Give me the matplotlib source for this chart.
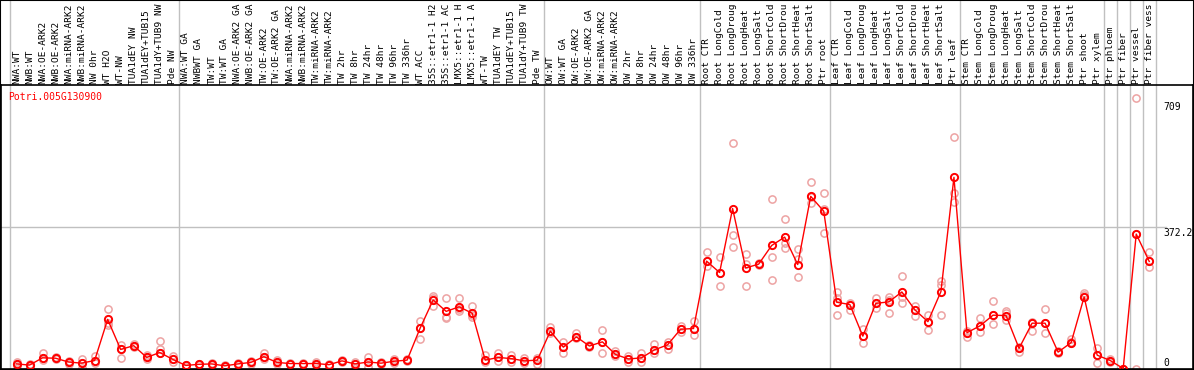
import matplotlib.pyplot as plt
from matplotlib.transforms import blended_transform_factory
from matplotlib.lines import Line2D

gene = 'Potri.005G130900'

# sample names as printed (cut to 14 characters, like the source chart)
labels = [
    'NWA:WT', 'NWB:WT', 'NWA:OE-ARK2', 'NWB:OE-ARK2', 'NWA:miRNA-ARK2',
    'NWB:miRNA-ARK2', 'NW 0hr', 'WT H2O', 'WT-NW', 'TUA1dEY NW',
    'TUA1dEY+TUB15', 'TUA1dY+TUB9 NW', 'Pde NW',
    'NWA:WT GA', 'NWBWT GA', 'TW:WT', 'TW:WT GA', 'NWA:OE-ARK2 GA',
    'NWB:OE-ARK2 GA', 'TW:OE-ARK2', 'TW:OE-ARK2 GA', 'NWA:miRNA-ARK2',
    'NWB:miRNA-ARK2', 'TW:miRNA-ARK2', 'TW:miRNA-ARK2', 'TW 2hr', 'TW 8hr',
    'TW 24hr', 'TW 48hr', 'TW 96hr', 'TW 336hr', 'WT ACC', '35S::etr1-1 H2',
    '35S::etr1-1 AC', 'LMX5::etr1-1 H', 'LMX5::etr1-1 A', 'WT-TW',
    'TUA1dEY TW', 'TUA1dEY+TUB15', 'TUA1dY+TUB9 TW', 'Pde TW',
    'OW:WT', 'OW:WT GA', 'OW:OE-ARK2', 'OW:OE-ARK2 GA', 'OW:miRNA-ARK2',
    'OW:miRNA-ARK2', 'OW 2hr', 'OW 8hr', 'OW 24hr', 'OW 48hr', 'OW 96hr',
    'OW 336hr',
    'Root CTR', 'Root LongCold', 'Root LongDroug', 'Root LongHeat',
    'Root LongSalt', 'Root ShortCold', 'Root ShortDrou', 'Root ShortHeat',
    'Root ShortSalt', 'Ptr root',
    'Leaf CTR', 'Leaf LongCold', 'Leaf LongDroug', 'Leaf LongHeat',
    'Leaf LongSalt', 'Leaf ShortCold', 'Leaf ShortDrou', 'Leaf ShortHeat',
    'Leaf ShortSalt', 'Ptr leaf',
    'Stem CTR', 'Stem LongCold', 'Stem LongDroug', 'Stem LongHeat',
    'Stem LongSalt', 'Stem ShortCold', 'Stem ShortDrou', 'Stem ShortHeat',
    'Stem ShortSalt', 'Ptr shoot',
    'Ptr xylem', 'Ptr phloem', 'Ptr fiber', 'Ptr vessel', 'Ptr fiber vess',
]

means = [
    12, 9, 28, 27, 17, 14, 21, 129, 50, 60, 29, 42, 24,
    8, 11, 12, 7, 12, 16, 31, 16, 13, 13, 13, 10, 20, 12, 17, 14, 19, 22,
    106, 180, 150, 162, 145, 22, 29, 26, 20, 22,
    98, 56, 83, 59, 70, 37, 25, 28, 49, 62, 103, 105,
    282, 252, 420, 264, 274, 323, 345, 273, 452, 413,
    174, 168, 85, 171, 175, 201, 154, 123, 202, 502,
    94, 112, 140, 139, 53, 119, 119, 43, 68, 188,
    35, 21, 0, 353, 281,
]

reps = [
    [6, 12, 17], [5, 9, 12], [41, 28, 22], [30, 27, 24], [20, 17, 12],
    [25, 14, 2], [32, 21, 15], [155, 114, 120], [62, 50, 28], [65, 60, 56],
    [35, 29, 25], [72, 50, 42], [32, 24, 18],
    [10, 8, 5], [13, 11, 9], [14, 12, 10], [9, 7, 5], [14, 12, 10],
    [19, 16, 13], [40, 31, 25], [22, 16, 11], [15, 13, 11], [15, 13, 11],
    [16, 13, 8], [12, 10, 8], [22, 20, 17], [18, 12, 5], [29, 17, 5],
    [16, 14, 12], [25, 19, 14], [24, 22, 20], [125, 106, 78],
    [190, 184, 164], [184, 132, 134], [184, 155, 150], [164, 140, 135],
    [35, 22, 16], [40, 29, 20], [36, 26, 16], [28, 20, 14], [28, 22, 12],
    [108, 98, 92], [70, 56, 42], [92, 83, 80], [62, 59, 56], [100, 70, 42],
    [45, 37, 32], [33, 25, 17], [40, 28, 16], [64, 49, 40], [70, 62, 50],
    [112, 103, 95], [124, 105, 87],
    [305, 282, 269], [292, 252, 217], [591, 350, 320], [300, 274, 216],
    [276, 274, 271], [444, 292, 232], [392, 330, 317], [313, 288, 239],
    [489, 450, 434], [460, 420, 357],
    [200, 185, 140], [172, 167, 154], [103, 85, 68], [184, 171, 160],
    [188, 180, 147], [243, 188, 173], [165, 154, 138], [140, 123, 101],
    [230, 220, 140], [607, 460, 438],
    [98, 94, 84], [132, 112, 95], [177, 140, 117], [150, 145, 128],
    [56, 53, 44], [122, 119, 99], [156, 119, 92], [46, 43, 40],
    [78, 70, 68], [199, 194, 188],
    [55, 35, 14], [24, 21, 18], [0, 0, 0], [709, 353, 0], [305, 281, 266],
]

# index of the last sample in each block (a grey separator follows it)
group_ends = [12, 40, 52, 62, 72, 83, 84, 85, 86, 87]
ymax = 744.4
ticks = [709, 372.2, 0]

W, H = 1194, 370
fig = plt.figure(figsize=(W / 100, H / 100), dpi=100)
ax = fig.add_axes([1 / W, 1.5 / H, 1192 / W, 283.5 / H])

n = len(labels)
step = 13.02
x0 = -0.5 - 9 / step
ax.set_xlim(x0, x0 + 1192 / step)
ax.set_ylim(0, ymax)
ax.set_xticks([])
ax.set_yticks([])
for s in ax.spines.values():
    s.set_color('black')
    s.set_linewidth(1.2)

grey = '#c0c0c0'
mono = 'DejaVu Sans Mono'
top = H / 283.5  # axes-fraction height reaching the top of the figure
tr = blended_transform_factory(ax.transData, ax.transAxes)

for b in [-1] + group_ends:
    ax.add_line(Line2D([b + 0.5, b + 0.5], [0, top], transform=tr,
                       color=grey, lw=1, clip_on=False, zorder=1))

ax.plot([x0, n + 0.3], [ticks[1], ticks[1]], color=grey, lw=1, zorder=1)

for i, lab in enumerate(labels):
    ax.text(i, 1 + 1.5 / 283.5, lab, transform=tr, rotation=90, ha='center',
            va='bottom', fontsize=6.8, family=mono, color='black')

for i, r in enumerate(reps):
    ax.plot([i] * len(r), r, 'o', ms=5.2, mfc='none', mec='#eda3a3', mew=1.1,
            zorder=2, clip_on=False)

ax.plot(range(n), means, '-', color='red', lw=1, zorder=3)
ax.plot(range(n), means, 'o', ms=5.2, mfc='none', mec='red', mew=1.4,
        zorder=4)

ax.text(7 / step + x0, 1 - 7 / 283.5, gene, transform=tr, color='red',
        fontsize=7, family=mono, va='top', ha='left')

xl = x0 + 1162 / step
ax.text(xl, ticks[0] - 8, '709', fontsize=7, family=mono, va='top')
ax.text(xl, ticks[1] - 3, '372.2', fontsize=7, family=mono, va='top')
ax.text(xl, 2, '0', fontsize=7, family=mono, va='bottom')

fig.add_artist(plt.Rectangle((0, 0), 1, 1, transform=fig.transFigure,
                             fill=False, ec='black', lw=1.5))

fig.savefig('out.png', dpi=100)
